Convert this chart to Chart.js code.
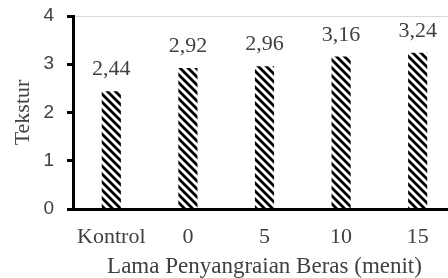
<!DOCTYPE html>
<html>
<head>
<meta charset="utf-8">
<script src="https://cdn.jsdelivr.net/npm/chart.js@4/dist/chart.umd.min.js"></script>
<style>
  html, body { margin: 0; padding: 0; background: #fff; overflow: hidden; }
  #wrap { width: 460px; height: 278px; position: relative; }
</style>
</head>
<body>
<div id="wrap"><canvas id="myChart"></canvas></div>
<script>
// data
const categories = ['Kontrol', '0', '5', '10', '15'];
const tekstur = [2.44, 2.92, 2.96, 3.16, 3.24];
const yTicks = [0, 1, 2, 3, 4];

const serif = '"Liberation Serif", "Times New Roman", serif';
const sans = '"Liberation Sans", Arial, sans-serif';

// hatch pattern
const makeHatch = () => {
    let p = document.createElement('canvas');
    p.width = 8;
    p.height = 8;
    let c = p.getContext('2d');
    c.strokeStyle = '#000';
    c.lineWidth = 2.8;
    c.beginPath();
    c.moveTo(-2, -2); c.lineTo(10, 10);
    c.moveTo(-10, -2); c.lineTo(2, 10);
    c.moveTo(6, -2); c.lineTo(18, 10);
    c.stroke();
    return c.createPattern(p, 'repeat');
};

const valueLabels = {
    id: 'valueLabels',
    afterDatasetsDraw(chart) {
        let ctx = chart.ctx;
        let meta = chart.getDatasetMeta(0);
        ctx.save();
        ctx.font = '22px ' + serif;
        ctx.fillStyle = '#404040';
        ctx.textAlign = 'center';
        ctx.textBaseline = 'alphabetic';
        meta.data.forEach((bar, i) => {
            ctx.fillText(tekstur[i].toFixed(2).replace('.', ','), bar.x, bar.y - 16);
        });
        ctx.restore();
    }
};

let chart = new Chart(document.getElementById('myChart').getContext('2d'), {
    type: 'bar',
    data: {
        labels: categories,
        datasets: [{
            data: tekstur,
            backgroundColor: makeHatch(),
            borderWidth: 0,
            barPercentage: 0.5,
            categoryPercentage: 0.5
        }]
    },
    options: {
        responsive: true,
        maintainAspectRatio: false,
        animation: false,
        layout: { padding: { top: 16, right: 4, left: 0, bottom: 0 } },
        plugins: {
            legend: { display: false },
            tooltip: { enabled: false }
        },
        scales: {
            x: {
                grid: { display: false, drawTicks: false },
                border: { color: '#000', width: 3 },
                ticks: { color: '#404040', font: { family: serif, size: 22 }, padding: 15 },
                title: {
                    display: true,
                    text: 'Lama Penyangraian Beras (menit)',
                    color: '#404040',
                    font: { family: serif, size: 23 },
                    padding: { top: 0, bottom: -3 }
                },
                afterFit: (scale) => { scale.height = 69; }
            },
            y: {
                min: 0,
                max: 4,
                afterBuildTicks: (scale) => { scale.ticks = yTicks.map(v => ({ value: v })); },
                grid: {
                    color: (ctx) => ctx.tick && ctx.tick.value === 4 ? '#d9d9d9' : 'rgba(0,0,0,0)',
                    tickColor: '#000',
                    tickLength: 6,
                    tickWidth: 3,
                    lineWidth: 1
                },
                border: { color: '#000', width: 3 },
                ticks: { color: '#404040', font: { family: sans, size: 19 }, padding: 13 },
                title: {
                    display: true,
                    text: 'Tekstur',
                    color: '#404040',
                    font: { family: serif, size: 22 },
                    padding: { top: 10, bottom: 0 }
                },
                afterFit: (scale) => {
                    scale.width = 73;
                    scale.paddingTop = 0;
                    scale.paddingBottom = 0;
                }
            }
        }
    },
    plugins: [valueLabels]
});
</script>
</body>
</html>
